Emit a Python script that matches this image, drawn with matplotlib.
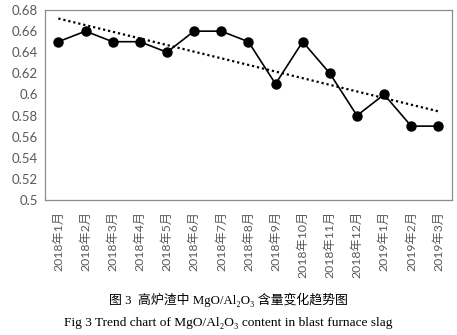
import numpy as np
import matplotlib.pyplot as plt

# monthly MgO/Al2O3 ratio in blast furnace slag
months = ['2018年1月', '2018年2月', '2018年3月', '2018年4月', '2018年5月',
          '2018年6月', '2018年7月', '2018年8月', '2018年9月', '2018年10月',
          '2018年11月', '2018年12月', '2019年1月', '2019年2月', '2019年3月']
ratio = [0.65, 0.66, 0.65, 0.65, 0.64, 0.66, 0.66, 0.65, 0.61, 0.65,
         0.62, 0.58, 0.60, 0.57, 0.57]
y_ticks = [0.5, 0.52, 0.54, 0.56, 0.58, 0.6, 0.62, 0.64, 0.66, 0.68]
y_tick_labels = ['0.5', '0.52', '0.54', '0.56', '0.58', '0.6', '0.62',
                 '0.64', '0.66', '0.68']

plt.rcParams['font.family'] = ['Lato', 'Noto Sans CJK SC', 'DejaVu Sans']

fig = plt.figure(figsize=(4.57, 3.35), dpi=100)
ax = fig.add_axes([0.098, 0.403, 0.891, 0.567])

x = np.arange(len(months))
ax.plot(x, ratio, color='black', lw=1.2, marker='o', ms=6.5, zorder=3)

# linear trend line
k, b = np.polyfit(x, ratio, 1)
ax.plot(x, k * x + b, color='black', lw=1.6, ls=(0, (1, 1.3)), zorder=2)

ax.set_xlim(-0.5, len(months) - 0.5)
ax.set_ylim(0.5, 0.68)
ax.set_xticks(x)
ax.set_xticklabels(months, rotation=90, fontsize=8.8, color='#595959')
ax.set_yticks(y_ticks)
ax.set_yticklabels(y_tick_labels, fontsize=9.5, color='#595959')
ax.tick_params(axis='x', length=0, pad=8)
ax.tick_params(axis='y', length=0, pad=5)
for sp in ax.spines.values():
    sp.set_color('#8c8c8c')
    sp.set_linewidth(0.9)

serif = ['Liberation Serif', 'Noto Sans CJK SC', 'DejaVu Serif']
fig.text(0.5, 0.105, '图 3  高炉渣中 MgO/Al₂O₃ 含量变化趋势图',
         ha='center', va='center', fontsize=9.3, family=serif)
fig.text(0.5, 0.035, 'Fig 3 Trend chart of MgO/Al₂O₃ content in blast furnace slag',
         ha='center', va='center', fontsize=9.6, family=serif)

fig.savefig('out.png', dpi=100)
